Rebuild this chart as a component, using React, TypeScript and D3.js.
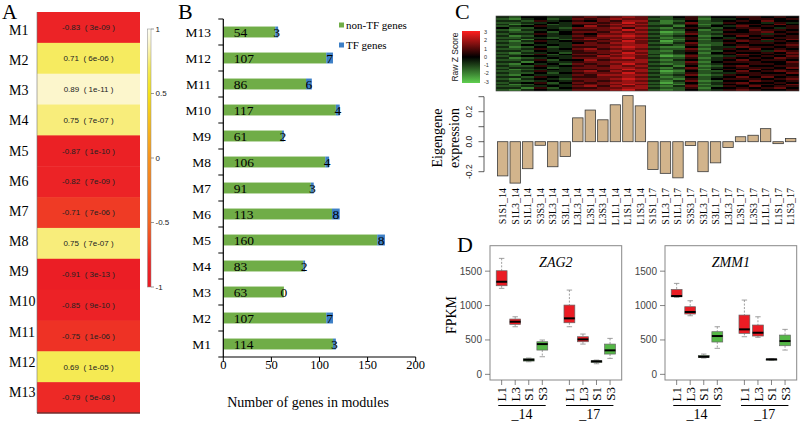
import React from 'react';
import * as d3 from 'd3';

const SERIF = "'Liberation Serif', 'Times New Roman', serif";
const SANS = "'Liberation Sans', Arial, sans-serif";

// ---------- Panel A data ----------
const modules = ['M1', 'M2', 'M3', 'M4', 'M5', 'M6', 'M7', 'M8', 'M9', 'M10', 'M11', 'M12', 'M13'];
const moduleCor = [-0.83, 0.71, 0.89, 0.75, -0.87, -0.82, -0.71, 0.75, -0.91, -0.85, -0.75, 0.69, -0.79];
const modulePval = ['3e-09', '6e-06', '1e-11', '7e-07', '1e-10', '7e-09', '7e-06', '7e-07', '3e-13', '9e-10', '1e-06', '1e-05', '5e-08'];
const corTicks = [1, 0.5, 0, -0.5, -1];
const corStops = [-1, -0.82, -0.7, -0.5, 0, 0.5, 0.68, 0.76, 0.9, 1];
const corColors = ['#ea1a23', '#ec2326', '#ef3d25', '#f26522', '#f7931e', '#f5e21c', '#f4ea4c', '#f8ed82', '#fcf7d2', '#fffff5'];

// ---------- Panel B data ----------
const nonTFGenes = [114, 107, 63, 83, 160, 113, 91, 106, 61, 117, 86, 107, 54];
const tfGenes = [3, 7, 0, 2, 8, 8, 3, 4, 2, 4, 6, 7, 3];
const geneTicks = [0, 50, 100, 150, 200];

// ---------- Panel C data ----------
const samples = ['S1S1_14', 'S1L3_14', 'S1L1_14', 'S3S3_14', 'S3L3_14', 'S3L1_14', 'L3L3_14', 'L3S1_14', 'L3S3_14', 'L1L1_14', 'L1S1_14', 'L1S3_14',
  'S1S1_17', 'S1L3_17', 'S1L1_17', 'S3S3_17', 'S3L3_17', 'S3L1_17', 'L3L3_17', 'L3S1_17', 'L3S3_17', 'L1L1_17', 'L1S1_17', 'L1S3_17'];
const eigengene = [-0.228, -0.276, -0.18, -0.024, -0.167, -0.098, 0.159, 0.211, 0.146, 0.246, 0.307, 0.239,
  -0.185, -0.211, -0.241, -0.026, -0.2, -0.141, -0.039, 0.033, 0.043, 0.087, -0.013, 0.022];
const eigenTicks = [-0.2, -0.1, 0, 0.1, 0.2, 0.3];
const eigenLabeled = [-0.2, 0, 0.2];
const zKeyTicks = [3, 2, 1, 0, -1, -2, -3];
// digit 0..8 => z-score (4 = 0)
const zRows = [
  '324433 565676 324524 455454', '213423 656766 223513 345545', '332534 546577 312423 454644', '223343 665686 213622 544353',
  '312423 556767 222513 455464', '234533 475676 331424 364545', '422432 666757 213532 455435', '213343 556686 322413 546554',
  '322424 665767 201522 445645', '233534 546676 312623 555354', '312433 657787 223412 464545', '223323 566676 312524 345455',
  '331442 675767 221513 554646', '213534 556686 302423 465354', '322433 465776 213622 545545', '224343 666677 332512 454456',
  '312423 556787 211423 365545', '223534 675676 322613 546454', '332433 566767 213522 455365', '213342 556686 223414 544546',
  '322524 665777 312523 465455', '234433 557676 201622 354546', '312343 666786 322513 545465', '223524 475667 213423 464554',
  '331433 566777 322614 555446', '214342 656686 212523 445545', '322534 565767 331412 564455', '233423 666776 213623 455546',
  '312343 556687 322514 546454', '223533 675767 201422 464565', '322424 566686 312523 355446', '214333 657777 223612 545554',
  '332543 556676 312423 464645', '213432 666787 221524 555456', '322343 565676 313612 446545', '234524 656777 202423 564454',
  '312433 566686 321513 455546', '223343 675767 213622 546455', '331524 556677 322514 454564', '213433 666786 212423 565445',
];

// ---------- Panel D data ----------
const boxLabels = ['L1', 'L3', 'S1', 'S3', 'L1', 'L3', 'S1', 'S3'];
const boxPositions = [1, 2, 3, 4, 6, 7, 8, 9];
const groupNames = ['_14', '_17'];
const groupCenters = [2.5, 7.5];
const fpkmTicks = [0, 500, 1000, 1500];
// [low whisker, q1, median, q3, high whisker]
const zag2Stats = [
  [1250, 1288, 1346, 1506, 1686], [692, 727, 765, 804, 837], [183, 193, 212, 227, 237], [256, 353, 440, 474, 499],
  [692, 750, 814, 1007, 1225], [440, 474, 508, 547, 586], [154, 174, 189, 198, 208], [232, 295, 349, 440, 523],
];
const zmm1Stats = [
  [1120, 1128, 1138, 1235, 1322], [852, 877, 906, 983, 1070], [237, 247, 256, 276, 295], [378, 470, 557, 620, 692],
  [547, 596, 654, 862, 1080], [538, 557, 605, 717, 837], [203, 208, 218, 222, 227], [353, 416, 484, 571, 654],
];

const corColor = d3.scaleLinear<string>().domain(corStops).range(corColors).clamp(true);
const zColor = d3.scaleLinear<string>().domain([-3, 0, 3]).range(['#5fcf4f', '#000000', '#ff1f1f']).clamp(true);

function PanelA() {
  const rowY = d3.scaleBand().domain(modules).range([12, 413]);
  const labY = d3.scalePoint().domain(modules).range([30, 392]);
  const cbY = d3.scaleLinear().domain([-1, 1]).range([287, 29]);
  const gradSteps = d3.range(0, 21).map(i => -1 + i * 0.1);
  return (
    <g>
      <text x={2} y={19} fontFamily={SERIF} fontSize={21}>A</text>
      <defs>
        <linearGradient id="corGrad" x1="0" y1="1" x2="0" y2="0">
          {gradSteps.map(v => <stop key={v} offset={`${((v + 1) / 2) * 100}%`} stopColor={corColor(v)} />)}
        </linearGradient>
      </defs>
      {modules.map((m, i) => (
        <g key={m}>
          <rect x={37} y={rowY(m)!} width={103} height={rowY.bandwidth() + 0.5} fill={corColor(moduleCor[i])} />
          <text x={88.5} y={rowY(m)! + rowY.bandwidth() / 2} dy="0.35em" textAnchor="middle" fontFamily={SANS} fontSize={8} fill="#222">
            {`${moduleCor[i].toFixed(2)}\u00a0\u00a0(\u00a0${modulePval[i]}\u00a0)`}
          </text>
          <text x={9} y={labY(m)!} dy="0.35em" fontFamily={SERIF} fontSize={14}>{m}</text>
        </g>
      ))}
      <line x1={37} x2={37} y1={12} y2={413} stroke="#777" strokeWidth={0.6} />
      <line x1={37} x2={140} y1={413} y2={413} stroke="#333" strokeWidth={1} />
      <rect x={147.5} y={cbY(1)} width={3.5} height={cbY(-1) - cbY(1)} fill="url(#corGrad)" stroke="#888" strokeWidth={0.5} />
      {corTicks.map(t => (
        <g key={t}>
          <line x1={151} x2={154} y1={cbY(t)} y2={cbY(t)} stroke="#555" strokeWidth={0.6} />
          <text x={155.5} y={cbY(t)} dy="0.35em" fontFamily={SANS} fontSize={8} fill="#222">{t}</text>
        </g>
      ))}
    </g>
  );
}

function PanelB() {
  const order = [...modules].reverse();
  const y = d3.scaleBand().domain(order).range([19, 357]);
  const x = d3.scaleLinear().domain([0, 200]).range([223.3, 415.7]);
  const barH = y.bandwidth() * 0.42;
  return (
    <g>
      <text x={178} y={19} fontFamily={SERIF} fontSize={22}>B</text>
      {modules.map((m, i) => {
        const cy = y(m)! + y.bandwidth() / 2;
        const g = nonTFGenes[i], t = tfGenes[i];
        return (
          <g key={m}>
            <rect x={x(0)} y={cy - barH / 2} width={x(g) - x(0)} height={barH} fill="#70ad47" />
            <rect x={x(g)} y={cy - barH / 2} width={x(g + t) - x(g)} height={barH} fill="#3d7fc6" />
            <text x={x(0) + 10.5} y={cy} dy="0.35em" fontFamily={SERIF} fontSize={13.5}>{g}</text>
            <text x={(x(g) + x(g + t)) / 2} y={cy} dy="0.35em" textAnchor="middle" fontFamily={SERIF} fontSize={13.5}>{t}</text>
            <text x={211} y={cy} dy="0.35em" textAnchor="end" fontFamily={SERIF} fontSize={13.5}>{m}</text>
          </g>
        );
      })}
      <line x1={x(0)} x2={x(0)} y1={19} y2={357} stroke="#000" strokeWidth={1.2} />
      {d3.range(0, 14).map(k => {
        const yy = 19 + k * y.step();
        return <line key={k} x1={x(0) - 5} x2={x(0)} y1={yy} y2={yy} stroke="#000" strokeWidth={1} />;
      })}
      <line x1={x(0)} x2={x(200)} y1={357} y2={357} stroke="#000" strokeWidth={1.2} />
      {geneTicks.map(t => (
        <g key={t}>
          <line x1={x(t)} x2={x(t)} y1={357} y2={362} stroke="#000" strokeWidth={1} />
          <text x={x(t)} y={369} textAnchor="middle" fontFamily={SERIF} fontSize={12.5}>{t}</text>
        </g>
      ))}
      <text x={308} y={407} textAnchor="middle" fontFamily={SERIF} fontSize={14}>Number of genes in modules</text>
      <rect x={339} y={22.5} width={5} height={5} fill="#70ad47" />
      <text x={346} y={25} dy="0.35em" fontFamily={SERIF} fontSize={11}>non-TF genes</text>
      <rect x={339} y={42.5} width={5} height={5} fill="#3d7fc6" />
      <text x={346} y={45} dy="0.35em" fontFamily={SERIF} fontSize={11}>TF genes</text>
    </g>
  );
}

function PanelC() {
  const rows = zRows.map(r => r.replace(/ /g, '').split('').map(c => (Number(c) - 4) * 0.6));
  const hx = d3.scaleBand().domain(samples).range([496, 799]);
  const hy = d3.scaleBand().domain(d3.range(rows.length).map(String)).range([16, 91]);
  const bx = d3.scaleBand().domain(samples).range([496.44, 796.9]).paddingInner(0.167).paddingOuter(0.0835);
  const by = d3.scaleLinear().domain([-0.2, 0.3]).range([171.7, 96.7]);
  const ky = d3.scaleLinear().domain([-3, 3]).range([81.7, 32.3]);
  const keySteps = d3.range(0, 13).map(i => -3 + i * 0.5);
  return (
    <g>
      <text x={455} y={19} fontFamily={SERIF} fontSize={22}>C</text>
      <defs>
        <linearGradient id="zGrad" x1="0" y1="1" x2="0" y2="0">
          {keySteps.map(v => <stop key={v} offset={`${((v + 3) / 6) * 100}%`} stopColor={zColor(v)} />)}
        </linearGradient>
      </defs>
      <g shapeRendering="crispEdges">
        {rows.map((r, ri) => r.map((v, ci) => (
          <rect key={`${ri}-${ci}`} x={hx(samples[ci])!} y={hy(String(ri))!} width={hx.bandwidth() + 0.4} height={hy.bandwidth() + 0.4} fill={zColor(v)} />
        )))}
      </g>
      <rect x={496} y={16} width={303} height={75} fill="none" stroke="#444" strokeWidth={0.6} />
      <rect x={462} y={31} width={18} height={52} fill="url(#zGrad)" />
      {zKeyTicks.map(t => (
        <text key={t} x={484} y={ky(t)} dy="0.35em" fontFamily={SANS} fontSize={5.5} fill="#333">{t}</text>
      ))}
      <text transform="translate(455,57) rotate(-90)" textAnchor="middle" dy="0.35em" fontFamily={SANS} fontSize={8.5} fill="#222">Raw Z Score</text>
      {samples.map((s, i) => {
        const v = eigengene[i];
        return (
          <rect key={s} x={bx(s)!} y={by(Math.max(0, v))} width={bx.bandwidth()} height={Math.abs(by(v) - by(0))}
            fill="#d2b48c" stroke="#3a3a3a" strokeWidth={0.8} />
        );
      })}
      <line x1={484} x2={484} y1={by(-0.2)} y2={by(0.3)} stroke="#333" strokeWidth={0.8} />
      {eigenTicks.map(t => (
        <line key={t} x1={478.5} x2={484} y1={by(t)} y2={by(t)} stroke="#333" strokeWidth={0.8} />
      ))}
      {eigenLabeled.map(t => (
        <text key={t} transform={`translate(469,${by(t)}) rotate(-90)`} textAnchor="middle" dy="0.35em" fontFamily={SANS} fontSize={8.5} fill="#222">
          {t.toFixed(1)}
        </text>
      ))}
      <text transform="translate(437,138) rotate(-90)" textAnchor="middle" dy="0.35em" fontFamily={SERIF} fontSize={14}>Eigengene</text>
      <text transform="translate(454,138) rotate(-90)" textAnchor="middle" dy="0.35em" fontFamily={SERIF} fontSize={14}>expression</text>
      {samples.map(s => (
        <text key={s} transform={`translate(${bx(s)! + bx.bandwidth() / 2},188) rotate(-90)`} textAnchor="end" dy="0.35em" fontFamily={SERIF} fontSize={10}>
          {s}
        </text>
      ))}
    </g>
  );
}

function BoxPanel({ x0, x1, gene, stats }: { x0: number; x1: number; gene: string; stats: number[][] }) {
  const x = d3.scaleLinear().domain([0.14, 9.86]).range([x0, x1]);
  const y = d3.scaleLinear().domain([-82, 1870]).range([380, 245.7]);
  const bw = (x(1) - x(0)) * 0.8;
  const tickX = x0;
  return (
    <g>
      <rect x={x0} y={245.7} width={x1 - x0} height={380 - 245.7} fill="none" stroke="#888" strokeWidth={1} />
      {fpkmTicks.map(t => (
        <g key={t}>
          <line x1={tickX - 5} x2={tickX} y1={y(t)} y2={y(t)} stroke="#666" strokeWidth={0.8} />
          <text x={tickX - 8} y={y(t)} dy="0.35em" textAnchor="end" fontFamily={SANS} fontSize={10} fill="#444">{t}</text>
        </g>
      ))}
      <text x={(x0 + x1) / 2} y={262} dy="0.35em" textAnchor="middle" fontFamily={SERIF} fontStyle="italic" fontSize={14}>{gene}</text>
      {stats.map((s, i) => {
        const cx = x(boxPositions[i]);
        const col = boxLabels[i].startsWith('L') ? '#eb1c24' : '#55b847';
        return (
          <g key={i}>
            <line x1={cx} x2={cx} y1={y(s[4])} y2={y(s[3])} stroke="#888" strokeWidth={0.8} strokeDasharray="2,1.5" />
            <line x1={cx} x2={cx} y1={y(s[1])} y2={y(s[0])} stroke="#888" strokeWidth={0.8} strokeDasharray="2,1.5" />
            <line x1={cx - bw / 4} x2={cx + bw / 4} y1={y(s[4])} y2={y(s[4])} stroke="#888" strokeWidth={0.8} />
            <line x1={cx - bw / 4} x2={cx + bw / 4} y1={y(s[0])} y2={y(s[0])} stroke="#888" strokeWidth={0.8} />
            <rect x={cx - bw / 2} y={y(s[3])} width={bw} height={Math.max(1, y(s[1]) - y(s[3]))} fill={col} stroke="#666" strokeWidth={0.7} />
            <line x1={cx - bw / 2} x2={cx + bw / 2} y1={y(s[2])} y2={y(s[2])} stroke="#000" strokeWidth={2} />
            <line x1={cx} x2={cx} y1={380} y2={385} stroke="#666" strokeWidth={0.8} />
            <text transform={`translate(${cx},387) rotate(-90)`} textAnchor="end" dy="0.35em" fontFamily={SERIF} fontSize={13}>{boxLabels[i]}</text>
          </g>
        );
      })}
      {groupNames.map((g, gi) => (
        <g key={g}>
          <line x1={x(groupCenters[gi] - 1.75)} x2={x(groupCenters[gi] + 1.75)} y1={405.5} y2={405.5} stroke="#000" strokeWidth={1} />
          <text x={x(groupCenters[gi])} y={419} textAnchor="middle" fontFamily={SERIF} fontSize={14}>{g}</text>
        </g>
      ))}
    </g>
  );
}

function PanelD() {
  return (
    <g>
      <text x={457} y={252} fontFamily={SERIF} fontSize={22}>D</text>
      <text transform="translate(451,315) rotate(-90)" textAnchor="middle" dy="0.35em" fontFamily={SERIF} fontSize={14}>FPKM</text>
      <BoxPanel x0={490} x1={621.7} gene="ZAG2" stats={zag2Stats} />
      <BoxPanel x0={665} x1={796.7} gene="ZMM1" stats={zmm1Stats} />
    </g>
  );
}

export default function App() {
  return (
    <svg width={800} height={422} viewBox="0 0 800 422" style={{ position: 'absolute', left: 0, top: 0, background: '#fff' }}>
      <rect x={0} y={0} width={800} height={422} fill="#fff" />
      <PanelA />
      <PanelB />
      <PanelC />
      <PanelD />
    </svg>
  );
}
